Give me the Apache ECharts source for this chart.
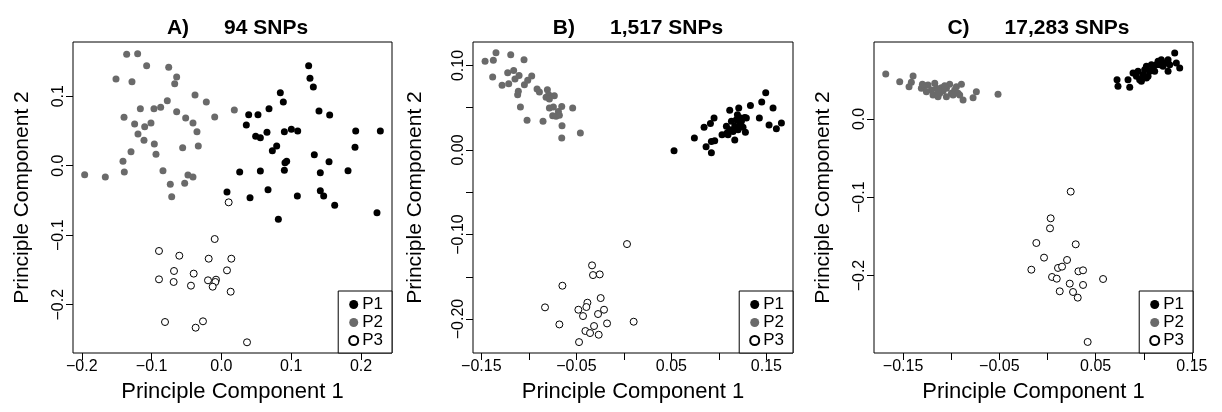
<!DOCTYPE html>
<html>
<head>
<meta charset="utf-8">
<script src="https://cdn.jsdelivr.net/npm/echarts@6/dist/echarts.min.js"></script>
<style>
html,body{margin:0;padding:0;background:#fff;}
#chart{width:1222px;height:412px;}
</style>
</head>
<body>
<div id="chart"></div>
<script>
// ---------- Data ----------
const panelTitles = ['A)      94 SNPs', 'B)      1,517 SNPs', 'C)      17,283 SNPs'];
const groupNames = ['P1', 'P2', 'P3'];
const xAxisName = 'Principle Component 1';
const yAxisName = 'Principle Component 2';

// Panel A (94 SNPs)
const A_P1 = [[0.1250,0.1439],[0.1269,0.1257],[0.1317,0.1132],[0.0844,0.1051],[0.0887,0.0917],[0.0682,0.0821],[0.0391,0.0734],[0.0524,0.0734],[0.1398,0.0787],[0.1551,0.0729],[0.0357,0.0586],[0.0491,0.0423],[0.0558,0.0403],[0.0653,0.0480],[0.0902,0.0490],[0.1002,0.0523],[0.1093,0.0499],[0.1924,0.0499],[0.2277,0.0499],[0.0792,0.0283],[0.0730,0.0216],[0.1914,0.0264],[0.1331,0.0159],[0.0911,0.0044],[0.0935,0.0063],[0.1542,0.0058],[0.0262,-0.0091],[0.0558,-0.0076],[0.0902,-0.0067],[0.1417,-0.0100],[0.1814,-0.0072],[0.0080,-0.0378],[0.0410,-0.0460],[0.0668,-0.0345],[0.1088,-0.0436],[0.1417,-0.0359],[0.1465,-0.0436],[0.1623,-0.0570],[0.0816,-0.0772],[0.2229,-0.0676]];
const A_P2 = [[-0.1357,0.1602],[-0.1200,0.1612],[-0.1071,0.1439],[-0.0755,0.1415],[-0.1510,0.1247],[-0.1281,0.1209],[-0.0641,0.1276],[-0.0669,0.1180],[-0.0378,0.1017],[-0.0216,0.0917],[-0.0775,0.0936],[-0.0870,0.0840],[-0.0966,0.0821],[-0.1161,0.0821],[-0.1395,0.0696],[-0.0641,0.0777],[-0.0512,0.0686],[-0.0096,0.0701],[0.0185,0.0801],[-0.1243,0.0600],[-0.1099,0.0562],[-0.1009,0.0614],[-0.0407,0.0614],[-0.0350,0.0490],[-0.1195,0.0456],[-0.1109,0.0365],[-0.0961,0.0312],[-0.0331,0.0283],[-0.0555,0.0259],[-0.1295,0.0202],[-0.0937,0.0164],[-0.1410,0.0063],[-0.1391,-0.0091],[-0.0837,-0.0072],[-0.0479,-0.0134],[-0.0407,-0.0163],[-0.1959,-0.0129],[-0.1663,-0.0163],[-0.0732,-0.0268],[-0.0526,-0.0254],[-0.0712,-0.0446]];
const A_P3 = [[0.0104,-0.0527],[-0.0096,-0.1055],[-0.0894,-0.1227],[-0.0603,-0.1295],[-0.0182,-0.1338],[0.0142,-0.1338],[-0.0679,-0.1515],[-0.0397,-0.1553],[0.0080,-0.1506],[-0.0894,-0.1635],[-0.0684,-0.1673],[-0.0436,-0.1726],[-0.0192,-0.1649],[-0.0077,-0.1640],[-0.0087,-0.1673],[-0.0125,-0.1741],[0.0133,-0.1813],[-0.0808,-0.2249],[-0.0369,-0.2331],[-0.0264,-0.2239],[0.0367,-0.2541]];

// Panel B (1,517 SNPs)
const B_P1 = [[0.0528,-0.0008],[0.0742,0.0142],[0.0844,0.0268],[0.0911,0.0315],[0.0949,0.0378],[0.0865,0.0039],[0.0921,-0.0032],[0.0921,0.0102],[0.0956,0.0110],[0.1033,0.0181],[0.1086,0.0201],[0.1114,0.0469],[0.1167,0.0118],[0.1209,0.0497],[0.1332,0.0528],[0.1451,0.0568],[0.1493,0.0678],[0.1570,0.0497],[0.1426,0.0378],[0.1528,0.0295],[0.1605,0.0252],[0.1658,0.0319],[0.1279,0.0209],[0.1079,0.0280],[0.1132,0.0339],[0.1184,0.0359],[0.1230,0.0378],[0.1272,0.0386],[0.1114,0.0240],[0.1167,0.0280],[0.1219,0.0299],[0.1254,0.0268],[0.1149,0.0220],[0.1202,0.0240],[0.1096,0.0181],[0.1289,0.0378],[0.1237,0.0339],[0.1195,0.0418]];
const B_P2 = [[-0.1461,0.1049],[-0.1374,0.1061],[-0.1346,0.1151],[-0.1191,0.1128],[-0.1051,0.1069],[-0.1381,0.0864],[-0.1282,0.0765],[-0.1223,0.0915],[-0.1212,0.0785],[-0.1160,0.0942],[-0.1146,0.0840],[-0.1103,0.0883],[-0.1047,0.0773],[-0.1012,0.0824],[-0.0970,0.0875],[-0.1118,0.0654],[-0.1111,0.0694],[-0.0914,0.0722],[-0.0889,0.0686],[-0.0805,0.0714],[-0.0791,0.0654],[-0.0819,0.0623],[-0.0732,0.0643],[-0.0784,0.0603],[-0.1089,0.0509],[-0.1019,0.0351],[-0.0851,0.0339],[-0.0784,0.0497],[-0.0742,0.0509],[-0.0749,0.0406],[-0.0689,0.0457],[-0.0654,0.0516],[-0.0714,0.0398],[-0.0679,0.0410],[-0.0539,0.0497],[-0.0651,0.0288],[-0.0654,0.0142],[-0.0458,0.0201]];
const B_P3 = [[0.0033,-0.1113],[-0.0335,-0.1365],[-0.0325,-0.1480],[-0.0254,-0.1472],[-0.0647,-0.1606],[-0.0244,-0.1752],[-0.0830,-0.1862],[-0.0384,-0.1807],[-0.0395,-0.1858],[-0.0479,-0.1890],[-0.0430,-0.1965],[-0.0209,-0.1890],[-0.0272,-0.1941],[0.0103,-0.2032],[-0.0679,-0.2064],[-0.0177,-0.2052],[-0.0314,-0.2083],[-0.0405,-0.2142],[-0.0356,-0.2166],[-0.0265,-0.2186],[-0.0472,-0.2273]];

// Panel C (17,283 SNPs)
const C_P1 = [[0.0722,0.0502],[0.0732,0.0417],[0.0836,0.0502],[0.0854,0.0404],[0.0888,0.0587],[0.0923,0.0544],[0.0957,0.0502],[0.0992,0.0566],[0.1009,0.0630],[0.1027,0.0672],[0.1061,0.0608],[0.1096,0.0651],[0.1131,0.0693],[0.1148,0.0736],[0.1182,0.0757],[0.1217,0.0715],[0.1252,0.0757],[0.1269,0.0693],[0.1252,0.0608],[0.1321,0.0843],[0.1338,0.0715],[0.1373,0.0651],[0.0975,0.0481],[0.1044,0.0544],[0.1079,0.0693],[0.1165,0.0693],[0.0940,0.0608],[0.1113,0.0608],[0.1200,0.0672],[0.1027,0.0523]];
const C_P2 = [[-0.1680,0.0574],[-0.1535,0.0476],[-0.1396,0.0549],[-0.1414,0.0468],[-0.1438,0.0413],[-0.1310,0.0391],[-0.1275,0.0425],[-0.1241,0.0434],[-0.1206,0.0370],[-0.1171,0.0455],[-0.1154,0.0391],[-0.1119,0.0327],[-0.1102,0.0400],[-0.1085,0.0357],[-0.1050,0.0391],[-0.1016,0.0442],[-0.0998,0.0327],[-0.0964,0.0370],[-0.0946,0.0413],[-0.0912,0.0306],[-0.0894,0.0442],[-0.0877,0.0242],[-0.0929,0.0327],[-0.1189,0.0306],[-0.1137,0.0285],[-0.0773,0.0272],[-0.0739,0.0349],[-0.0514,0.0315],[-0.1258,0.0349],[-0.1050,0.0285],[-0.1137,0.0357],[-0.1299,0.0442],[-0.0981,0.0306],[-0.1068,0.0425]];
const C_P3 = [[0.0241,-0.0928],[0.0033,-0.1269],[0.0026,-0.1397],[-0.0116,-0.1584],[0.0293,-0.1601],[-0.0036,-0.1771],[0.0203,-0.1801],[-0.0168,-0.1925],[0.0109,-0.1903],[0.0151,-0.1886],[0.0321,-0.1946],[0.0369,-0.1933],[0.0047,-0.2018],[0.0096,-0.2040],[0.0231,-0.2103],[0.0369,-0.2120],[0.0127,-0.2201],[0.0265,-0.2210],[0.0314,-0.2282],[0.0577,-0.2044],[0.0417,-0.2848]];

// Tick positions and labels
const A_xTicks = [-0.2,-0.1,0,0.1,0.2];
const A_xLabels = ['\u22120.2','\u22120.1','0.0','0.1','0.2'];
const A_yTicks = [-0.2,-0.1,0,0.1];
const A_yLabels = ['\u22120.2','\u22120.1','0.0','0.1'];
const B_xTicks = [-0.15,-0.10,-0.05,0,0.05,0.10,0.15];
const B_xLabels = ['\u22120.15','','\u22120.05','','0.05','','0.15'];
const B_yTicks = [-0.20,-0.15,-0.10,-0.05,0,0.05,0.10];
const B_yLabels = ['\u22120.20','','\u22120.10','','0.00','','0.10'];
const C_xTicks = [-0.15,-0.10,-0.05,0,0.05,0.10,0.15];
const C_xLabels = ['\u22120.15','','\u22120.05','','0.05','','0.15'];
const C_yTicks = [-0.2,-0.1,0];
const C_yLabels = ['\u22120.2','\u22120.1','0.0'];

// ---------- Layout ----------
const FONT = '"Liberation Sans", Arial, Helvetica, sans-serif';
const panels = [
  {grid:{left:73, top:42, width:319, height:311}, xr:[-0.2126,0.2444], yr:[-0.2695,0.178],
   xt:A_xTicks, xl:A_xLabels, yt:A_yTicks, yl:A_yLabels, data:[A_P1,A_P2,A_P3], yGap:40},
  {grid:{left:473, top:42, width:320, height:311}, xr:[-0.1588,0.1780], yr:[-0.2402,0.1278],
   xt:B_xTicks, xl:B_xLabels, yt:B_yTicks, yl:B_yLabels, data:[B_P1,B_P2,B_P3], yGap:47},
  {grid:{left:874, top:42, width:319, height:311}, xr:[-0.1802,0.1511], yr:[-0.2989,0.0983],
   xt:C_xTicks, xl:C_xLabels, yt:C_yTicks, yl:C_yLabels, data:[C_P1,C_P2,C_P3], yGap:40}
];
const groupStyles = [
  {color:'#000000', borderColor:'#000000', borderWidth:0},
  {color:'#6a6a6a', borderColor:'#6a6a6a', borderWidth:0},
  {color:'#ffffff', borderColor:'#000000', borderWidth:1}
];

function labelFor(ticks, labels) {
  return function (v) {
    for (let i = 0; i < ticks.length; i++) {
      if (Math.abs(ticks[i] - v) < 1e-9) return labels[i];
    }
    return '';
  };
}

const option = {
  animation: false,
  backgroundColor: '#ffffff',
  title: [], grid: [], xAxis: [], yAxis: [], legend: [], series: []
};

panels.forEach((p, i) => {
  const g = p.grid;
  option.grid.push({left:g.left, top:g.top, width:g.width, height:g.height,
    show:true, borderColor:'#000', borderWidth:1, backgroundColor:'transparent', containLabel:false});
  option.title.push({text: panelTitles[i], left: g.left + g.width/2, top: 13, textAlign:'center',
    textStyle:{fontFamily:FONT, fontSize:21, fontWeight:'bold', color:'#000'}});
  option.xAxis.push({type:'value', gridIndex:i, min:p.xr[0], max:p.xr[1], position:'bottom',
    name:xAxisName, nameLocation:'middle', nameGap:28,
    nameTextStyle:{fontFamily:FONT, fontSize:22, color:'#000'},
    axisLine:{show:false, onZero:false}, splitLine:{show:false},
    axisTick:{show:true, inside:false, length:7, lineStyle:{color:'#000', width:1}, customValues:p.xt},
    axisLabel:{show:true, margin:6, fontFamily:FONT, fontSize:16, color:'#000', customValues:p.xt,
      formatter:labelFor(p.xt, p.xl), showMinLabel:true, showMaxLabel:true}
  });
  option.yAxis.push({type:'value', gridIndex:i, min:p.yr[0], max:p.yr[1], position:'left',
    name:yAxisName, nameLocation:'middle', nameGap:p.yGap, nameRotate:90,
    nameTextStyle:{fontFamily:FONT, fontSize:21, color:'#000'},
    axisLine:{show:false, onZero:false}, splitLine:{show:false},
    axisTick:{show:true, inside:false, length:7, lineStyle:{color:'#000', width:1}, customValues:p.yt},
    axisLabel:{show:true, rotate:90, margin:6, fontFamily:FONT, fontSize:16, color:'#000', customValues:p.yt,
      formatter:labelFor(p.yt, p.yl), showMinLabel:true, showMaxLabel:true}
  });
  option.legend.push({
    data: groupNames, orient:'vertical', selectedMode:false,
    right: 1222 - (g.left + g.width), bottom: 412 - (g.top + g.height),
    backgroundColor:'#fff', borderColor:'#000', borderWidth:1,
    padding:[5, 9, 4, 10], itemGap:1, itemWidth:9, itemHeight:9, icon:'circle',
    textStyle:{fontFamily:FONT, fontSize:17, lineHeight:15, color:'#000', padding:[0,0,0,-1]}
  });
  p.data.forEach((d, k) => {
    option.series.push({
      type:'scatter', name:groupNames[k], xAxisIndex:i, yAxisIndex:i,
      data:d, symbol:'circle', symbolSize:7,
      itemStyle:Object.assign({opacity:1}, groupStyles[k]),
      emphasis:{disabled:true}, z:2+k
    });
  });
});

const chart = echarts.init(document.getElementById('chart'), null, {renderer:'canvas'});
chart.setOption(option);
</script>
</body>
</html>
